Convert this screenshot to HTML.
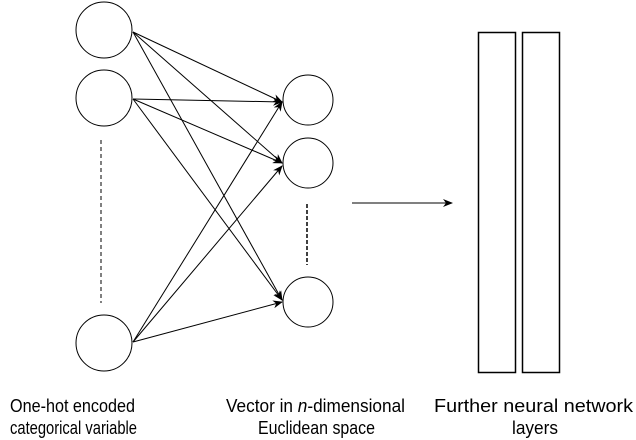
<!DOCTYPE html>
<html><head><style>html,body{margin:0;padding:0;background:#fff}svg{display:block}</style></head>
<body>
<svg width="636" height="440" viewBox="0 0 636 440" xmlns="http://www.w3.org/2000/svg" font-family="Liberation Sans, sans-serif">
<defs><marker id="a" markerWidth="10" markerHeight="8" refX="9" refY="4" orient="auto" markerUnits="userSpaceOnUse"><path d="M0,0 L10,4 L0,8 L3,4 z" fill="#000"/></marker></defs>
<g fill="none" stroke="#000" stroke-width="1">
<circle cx="104" cy="30" r="28"/>
<circle cx="104" cy="98" r="28"/>
<circle cx="104" cy="343" r="28"/>
<circle cx="308" cy="100" r="25"/>
<circle cx="308" cy="163" r="25"/>
<circle cx="308" cy="302" r="25"/>
<line x1="101" y1="140" x2="101" y2="303" stroke-dasharray="4,3"/>
<line x1="307" y1="204" x2="307" y2="265" stroke-dasharray="4,2" stroke-width="1.5"/>
<g marker-end="url(#a)">
<line x1="133" y1="32" x2="282" y2="102"/>
<line x1="133" y1="32" x2="282" y2="163"/>
<line x1="133" y1="32" x2="282" y2="300"/>
<line x1="133" y1="99" x2="282" y2="102"/>
<line x1="133" y1="99" x2="282" y2="163"/>
<line x1="133" y1="99" x2="282" y2="300"/>
<line x1="133" y1="342" x2="282" y2="102"/>
<line x1="133" y1="342" x2="282" y2="166"/>
<line x1="133" y1="342" x2="282" y2="302"/>
<line x1="352" y1="203" x2="452" y2="203"/>
</g>
<rect x="478.5" y="32.5" width="37" height="340" stroke-width="1.5"/>
<rect x="522.5" y="32.5" width="37" height="340" stroke-width="1.5"/>
</g>
<g font-size="18" fill="#000">
<text x="10" y="412" textLength="125" lengthAdjust="spacingAndGlyphs">One-hot encoded</text>
<text x="10" y="434" textLength="127" lengthAdjust="spacingAndGlyphs">categorical variable</text>
<text x="226" y="412" textLength="179" lengthAdjust="spacingAndGlyphs">Vector in <tspan font-style="italic">n</tspan>-dimensional</text>
<text x="258" y="434" textLength="117" lengthAdjust="spacingAndGlyphs">Euclidean space</text>
<text x="434" y="412" textLength="199" lengthAdjust="spacingAndGlyphs">Further neural network</text>
<text x="512" y="434" textLength="46" lengthAdjust="spacingAndGlyphs">layers</text>
</g>
</svg>
</body></html>
